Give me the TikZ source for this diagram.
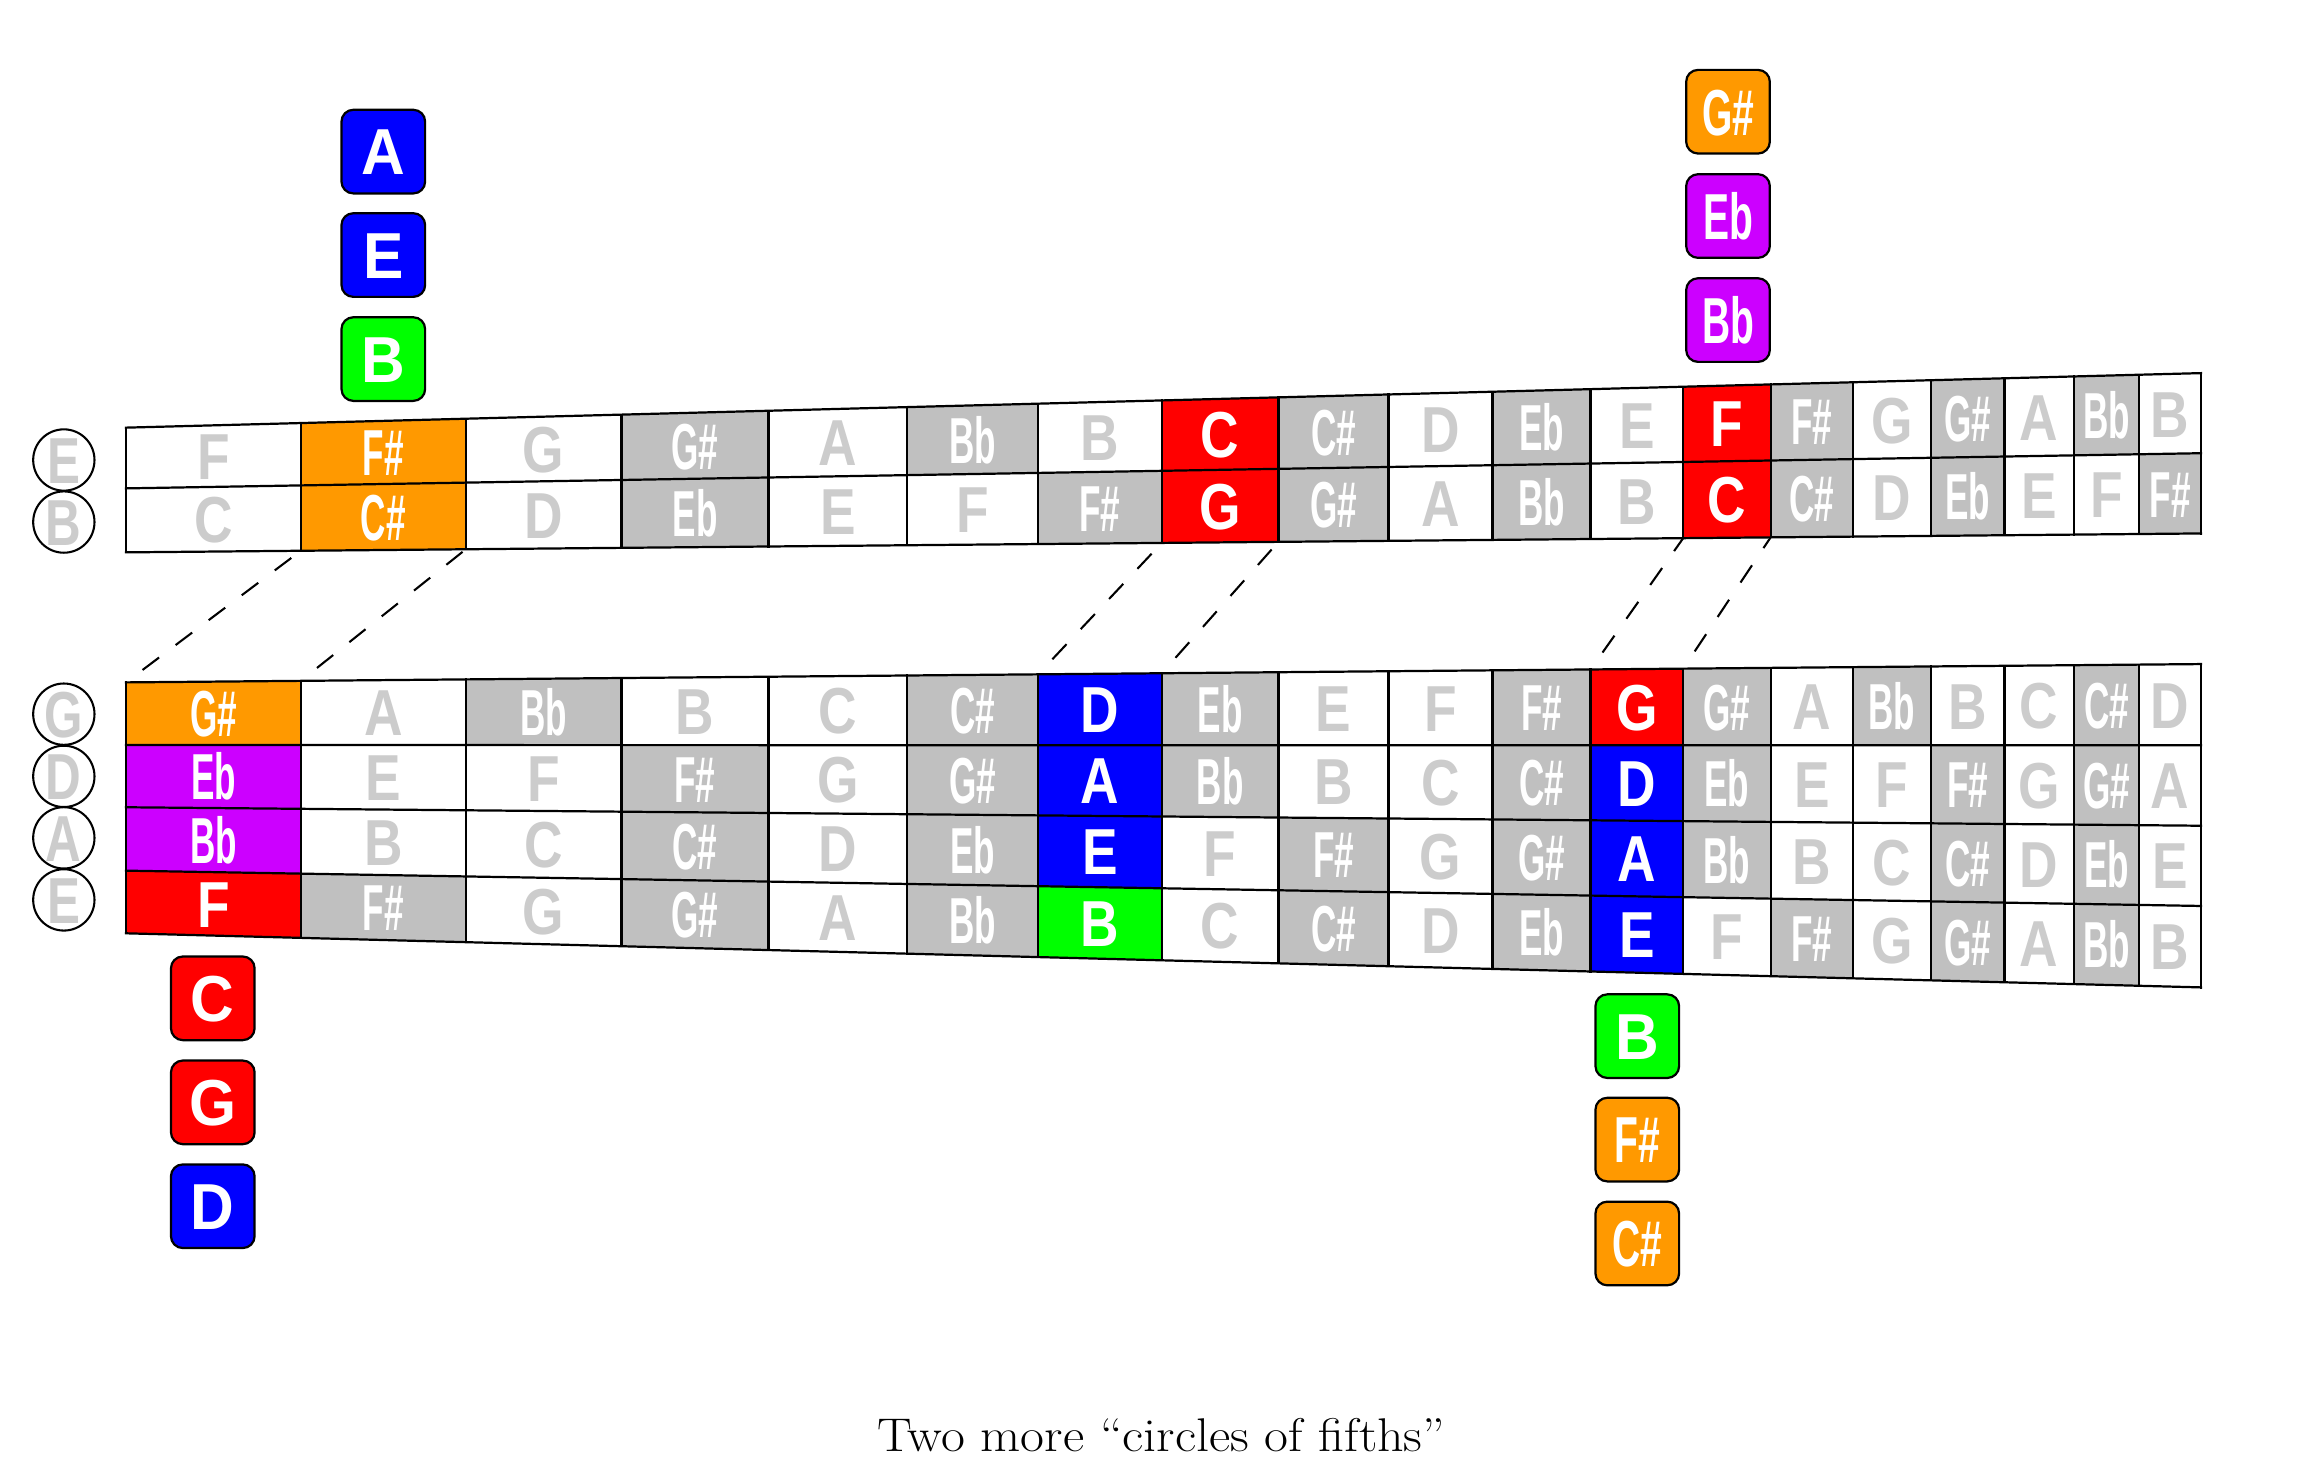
\documentclass[tikz,border=0pt]{standalone}
\usepackage{fontspec}
\usepackage{graphicx}
\newfontfamily\nf{Liberation Sans}
\definecolor{orng}{HTML}{FF9900}
\definecolor{purp}{HTML}{CC00FF}
\definecolor{grn}{HTML}{00FF00}
\definecolor{blu}{HTML}{0000FF}
\definecolor{rd}{HTML}{FF0000}
\definecolor{accgray}{HTML}{C0C0C0}
\definecolor{natgray}{HTML}{CCCCCC}

\newcommand\isacc[1]{\ifcase#1 0\or1\or0\or1\or0\or0\or1\or0\or1\or0\or1\or0\fi}
\newcommand\nname[1]{\ifcase#1 C\or C\#\or D\or Eb\or E\or F\or F\#\or G\or G\#\or A\or Bb\or B\fi}
\newcommand\cellname[1]{\ifnum\isacc{#1}=1 \scalebox{0.54}[1]{\nname{#1}}\else\scalebox{0.82}[1]{\nname{#1}}\fi}
\newcommand\boxone[1]{\scalebox{0.93}[1]{#1}}
\newcommand\boxtwo[1]{\scalebox{0.6}[1]{#1}}
\newcommand\circlbl[1]{\scalebox{0.76}[1]{#1}}
\newcommand\hl[4]{\expandafter\def\csname hl@#1@#2@#3\endcsname{#4}}

\hl{T}{0}{1}{orng}\hl{T}{1}{1}{orng}
\hl{T}{0}{7}{rd}\hl{T}{1}{7}{rd}
\hl{T}{0}{12}{rd}\hl{T}{1}{12}{rd}
\hl{B}{0}{0}{orng}\hl{B}{1}{0}{purp}\hl{B}{2}{0}{purp}\hl{B}{3}{0}{rd}
\hl{B}{0}{6}{blu}\hl{B}{1}{6}{blu}\hl{B}{2}{6}{blu}\hl{B}{3}{6}{grn}
\hl{B}{0}{11}{rd}\hl{B}{1}{11}{blu}\hl{B}{2}{11}{blu}\hl{B}{3}{11}{blu}

\pgfmathdeclarefunction{fx}{1}{\pgfmathparse{85.3+2107.5*(1-0.9438743^(#1))}}

\tikzset{
  lbl/.style={font=\nf\bfseries\fontsize{44}{44}\selectfont, inner sep=0pt, text height=31.6pt, text depth=0pt},
  gridline/.style={line width=1.5pt, black, line cap=rect},
  dashline/.style={line width=1.4pt, dash pattern=on 14pt off 14pt, dash phase=14pt},
  stringcirc/.style={circle, draw, line width=1.4pt, fill=white, minimum size=41.5pt, inner sep=0pt, lbl, text=natgray},
  keybox/.style={rectangle, rounded corners=8pt, draw, line width=1.5pt, minimum size=56.6pt, inner sep=0pt, lbl, text=white},
}

% #1 id, #2 left y array, #3 right y array, #4 last row index, #5 start notes, #6 number of rows
\newcommand\board[6]{%
  \foreach \rr in {0,...,#4}{%
    \foreach \c in {0,...,18}{%
      \pgfmathsetmacro\xa{fx(\c)}%
      \pgfmathsetmacro\xb{fx(\c+1)}%
      \pgfmathsetmacro\ta{(\xa-85.3)/1404.2}%
      \pgfmathsetmacro\tb{(\xb-85.3)/1404.2}%
      \pgfmathsetmacro\yaa{#2[\rr]+(#3[\rr]-#2[\rr])*\ta}%
      \pgfmathsetmacro\yba{#2[\rr]+(#3[\rr]-#2[\rr])*\tb}%
      \pgfmathsetmacro\yab{#2[\rr+1]+(#3[\rr+1]-#2[\rr+1])*\ta}%
      \pgfmathsetmacro\ybb{#2[\rr+1]+(#3[\rr+1]-#2[\rr+1])*\tb}%
      \pgfmathsetmacro\xc{(\xa+\xb)/2}%
      \pgfmathsetmacro\yc{(\yaa+\yba+\yab+\ybb)/4}%
      \pgfmathtruncatemacro\nt{mod(#5[\rr]+\c,12)}%
      \ifcsname hl@#1@\rr @\c\endcsname
        \edef\fillc{\csname hl@#1@\rr @\c\endcsname}\def\txtc{white}%
      \else
        \ifnum\isacc{\nt}=1 \def\fillc{accgray}\def\txtc{white}%
        \else \def\fillc{white}\def\txtc{natgray}\fi
      \fi
      \fill[fill=\fillc] (\xa,\yaa) -- (\xb,\yba) -- (\xb,\ybb) -- (\xa,\yab) -- cycle;
      \node[lbl, text=\txtc] (#1-\rr-\c) at (\xc,\yc) {\cellname{\nt}};
    }%
  }%
  \foreach \k in {0,...,#6}{%
    \pgfmathsetmacro\yl{#2[\k]}%
    \pgfmathsetmacro\yr{#3[\k]}%
    \draw[gridline] (85.3,\yl) -- (1489.5,\yr);
  }%
  \foreach \n in {0,...,19}{%
    \pgfmathsetmacro\xn{fx(\n)}%
    \pgfmathsetmacro\tn{(\xn-85.3)/1404.2}%
    \pgfmathsetmacro\yt{#2[0]+(#3[0]-#2[0])*\tn}%
    \pgfmathsetmacro\yb{#2[#6]+(#3[#6]-#2[#6])*\tn}%
    \coordinate (#1-t-\n) at (\xn,\yt);
    \coordinate (#1-b-\n) at (\xn,\yb);
    \draw[gridline] (#1-t-\n) -- (#1-b-\n);
  }%
}

\begin{document}
\begin{tikzpicture}[x=1pt,y=-1pt]
\useasboundingbox (0,0) rectangle (1568,987);

\board{T}{{289.4,330.5,373.8}}{{252.5,306.7,361.0}}{1}{{5,0}}{2}
\board{B}{{461.8,504.2,546.3,589.2,631.6}}{{449.4,504.4,558.8,613.1,668.2}}{3}{{8,3,10,5}}{4}

% string circles
\node[stringcirc] (sT0) at (43.2,311.3) {\circlbl{E}};
\node[stringcirc] (sT1) at (43.2,353.3) {\circlbl{B}};
\node[stringcirc] (sB0) at (43.2,483.3) {\circlbl{G}};
\node[stringcirc] (sB1) at (43.2,525.4) {\circlbl{D}};
\node[stringcirc] (sB2) at (43.2,567.0) {\circlbl{A}};
\node[stringcirc] (sB3) at (43.2,609.0) {\circlbl{E}};

% key boxes
\node[keybox, fill=blu]  (k1a) at (259.4,102.6) {\boxone{A}};
\node[keybox, fill=blu]  (k1b) at (259.4,172.6) {\boxone{E}};
\node[keybox, fill=grn]  (k1c) at (259.4,243.0) {\boxone{B}};

\node[keybox, fill=orng] (k2a) at (1169.4,75.6) {\boxtwo{G\#}};
\node[keybox, fill=purp] (k2b) at (1169.4,146.2) {\boxtwo{Eb}};
\node[keybox, fill=purp] (k2c) at (1169.4,216.6) {\boxtwo{Bb}};

\node[keybox, fill=rd]   (k3a) at (144.0,675.6) {\boxone{C}};
\node[keybox, fill=rd]   (k3b) at (144.0,746.0) {\boxone{G}};
\node[keybox, fill=blu]  (k3c) at (144.0,816.3) {\boxone{D}};

\node[keybox, fill=grn]  (k4a) at (1108.0,701.2) {\boxone{B}};
\node[keybox, fill=orng] (k4b) at (1108.0,771.2) {\boxtwo{F\#}};
\node[keybox, fill=orng] (k4c) at (1108.0,841.5) {\boxtwo{C\#}};

% dashed connectors
\draw[dashline] (B-t-0) -- (T-b-1);
\draw[dashline] (B-t-1) -- (T-b-2);
\draw[dashline] (B-t-6) -- (T-b-7);
\draw[dashline] (B-t-7) -- (T-b-8);
\draw[dashline] (B-t-11) -- (T-b-12);
\draw[dashline] (B-t-12) -- (T-b-13);

\node[font=\fontsize{32}{32}\selectfont, anchor=base, inner sep=0pt] (caption) at (785.8,982.5) {\scalebox{1.1}[1]{Two more ``circles of fifths''}};
\end{tikzpicture}
\end{document}
